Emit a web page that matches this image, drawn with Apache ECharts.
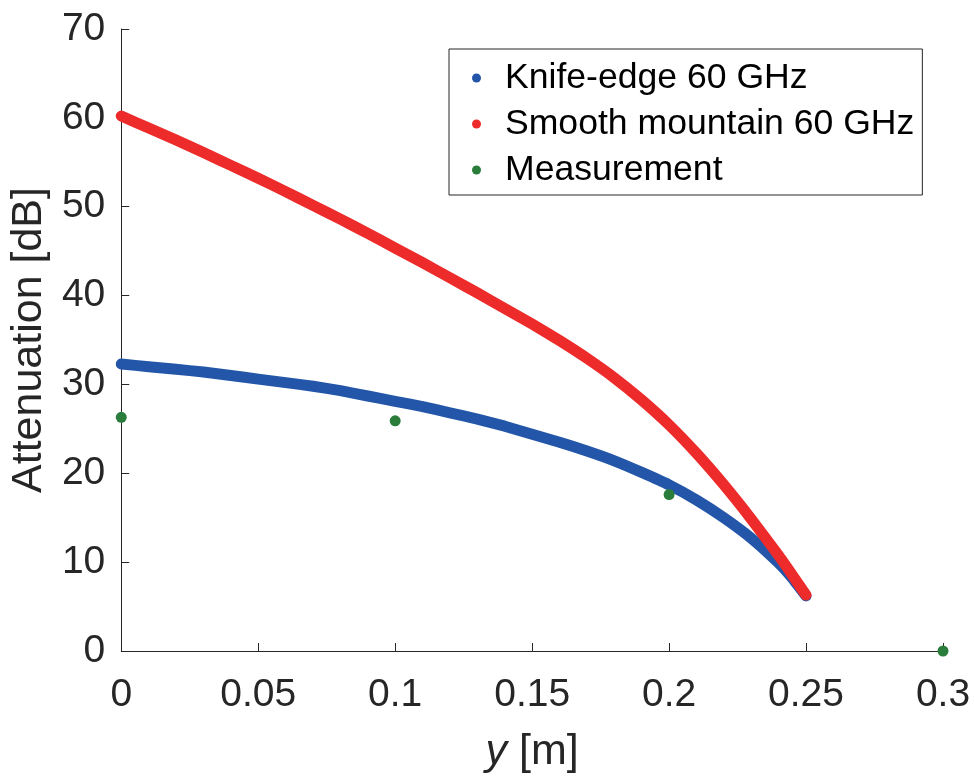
<!DOCTYPE html>
<html>
<head>
<meta charset="utf-8">
<script src="https://cdn.jsdelivr.net/npm/echarts@6/dist/echarts.min.js"></script>
<style>html,body{margin:0;padding:0;background:#fff}#c{width:974px;height:779px}</style>
</head>
<body>
<div id="c"></div>
<script>
const yPos = [0,0.01,0.02,0.03,0.04,0.05,0.06,0.07,0.08,0.09,0.10,0.11,0.12,0.13,0.14,0.15,0.16,0.17,0.18,0.19,0.20,0.21,0.22,0.23,0.24,0.245,0.25];
const knifeEdge = [32.3,32.0,31.7,31.4,31.0,30.6,30.2,29.8,29.3,28.7,28.1,27.5,26.8,26.1,25.3,24.4,23.5,22.5,21.4,20.1,18.7,17.0,15.0,12.7,9.9,8.2,6.2];
const smoothMountain = [60.2,58.85,57.5,56.1,54.65,53.2,51.7,50.15,48.6,47.0,45.35,43.7,42.0,40.3,38.55,36.8,34.95,32.95,30.75,28.25,25.45,22.25,18.7,14.85,10.75,8.55,6.3];
const measX = [0,0.1,0.2,0.3];
const measY = [26.3,25.9,17.6,0];
const xTickLabels = ['0','0.05','0.1','0.15','0.2','0.25','0.3'];
const yTickLabels = ['0','10','20','30','40','50','60','70'];
const seriesNames = ['Knife-edge 60 GHz','Smooth mountain 60 GHz','Measurement'];

const C_BLUE = '#2356a8', C_RED = '#ee2b2b', C_GREEN = '#2a7d3b', AX = '#262626';
const font = 'Liberation Sans, Arial, Helvetica, sans-serif';

const chart = echarts.init(document.getElementById('c'), null, {renderer:'canvas'});
chart.setOption({
  animation:false,
  backgroundColor:'#fff',
  grid:{left:120,right:31,top:29,bottom:123,containLabel:false},
  legend:{
    orient:'vertical', left:449, top:49,
    padding:[9,8,5,23],
    borderColor:AX, borderWidth:1, backgroundColor:'#fff',
    itemWidth:9, itemHeight:9, itemGap:6,
    textStyle:{fontFamily:font,fontSize:35.6,color:'#000',lineHeight:40,padding:[0,0,0,19]},
    data:seriesNames.map(n=>({name:n,icon:'circle'}))
  },
  xAxis:{
    type:'value', min:0, max:0.3, interval:0.05,
    name:'{i|y} [m]', nameLocation:'middle', nameGap:80,
    nameTextStyle:{fontFamily:font,fontSize:43,color:AX,rich:{i:{fontFamily:font,fontSize:43,fontStyle:'italic',color:AX}}},
    axisLine:{show:true,lineStyle:{color:AX,width:1}},
    axisTick:{show:true,inside:true,length:8,lineStyle:{color:AX}},
    axisLabel:{fontFamily:font,fontSize:39,color:AX,margin:25,
      formatter:(v)=>xTickLabels[Math.round(v/0.05)]},
    splitLine:{show:false}
  },
  yAxis:{
    type:'value', min:0, max:70, interval:10,
    name:'Attenuation [dB]', nameLocation:'middle', nameGap:61,
    nameTextStyle:{fontFamily:font,fontSize:43,color:AX},
    axisLine:{show:true,lineStyle:{color:AX,width:1}},
    axisTick:{show:true,inside:true,length:8,lineStyle:{color:AX}},
    axisLabel:{fontFamily:font,fontSize:39,color:AX,margin:16,
      formatter:(v)=>yTickLabels[Math.round(v/10)]},
    splitLine:{show:false}
  },
  series:[
    {name:seriesNames[0],type:'line',data:yPos.map((x,i)=>[x,knifeEdge[i]]),
     showSymbol:false,smooth:0.15,itemStyle:{color:C_BLUE},
     lineStyle:{color:C_BLUE,width:11,cap:'round',join:'round'},z:2},
    {name:seriesNames[1],type:'line',data:yPos.map((x,i)=>[x,smoothMountain[i]]),
     showSymbol:false,smooth:0.15,itemStyle:{color:C_RED},
     lineStyle:{color:C_RED,width:11,cap:'round',join:'round'},z:3},
    {name:seriesNames[2],type:'scatter',data:measX.map((x,i)=>[x,measY[i]]),
     symbol:'circle',symbolSize:11,itemStyle:{color:C_GREEN,opacity:1},z:4,clip:false}
  ]
});
</script>
</body>
</html>
